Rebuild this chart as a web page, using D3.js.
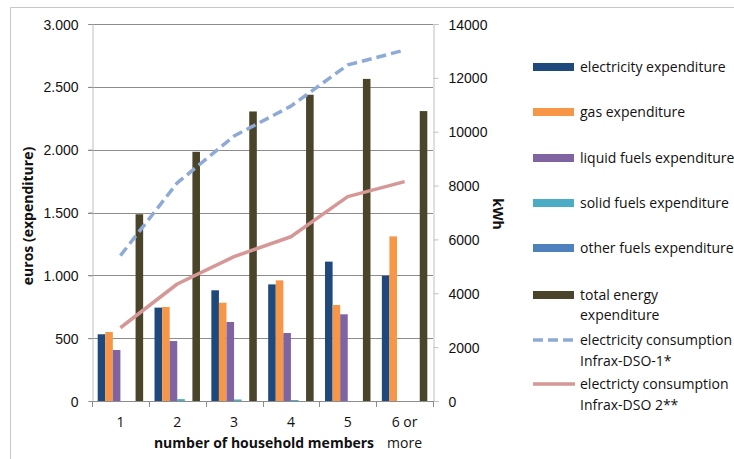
<!DOCTYPE html>
<html>
<head>
<meta charset="utf-8">
<script src="https://cdn.jsdelivr.net/npm/d3@7"></script>
<style>
  html, body { margin: 0; padding: 0; background: #fff; }
  svg { display: block; font-family: "Open Sans", sans-serif; }
</style>
</head>
<body>
<svg id="chart" width="734" height="459"></svg>
<script>
// Household size categories
const categories = ["1", "2", "3", "4", "5", "6 or more"];
const categoryLabels = [["1"], ["2"], ["3"], ["4"], ["5"], ["6 or", "more"]];

// Yearly expenditure per household, euros (left axis)
const electricityExpenditure = [531, 743, 881, 928, 1109, 997];
const gasExpenditure = [549, 748, 782, 960, 764, 1310];
const liquidFuelsExpenditure = [406, 477, 629, 541, 690, 0];
const solidFuelsExpenditure = [0, 15, 12, 8, 0, 0];
const otherFuelsExpenditure = [0, 0, 0, 0, 0, 0];
const totalEnergyExpenditure = [1486, 1983, 2304, 2437, 2563, 2307];

// Yearly electricity consumption, kWh (right axis)
const consumptionDSO1 = [5400, 8100, 9840, 10950, 12480, 13030];
const consumptionDSO2 = [2720, 4345, 5360, 6100, 7590, 8145];

// Axis ticks
const leftTicks = [0, 500, 1000, 1500, 2000, 2500, 3000];
const rightTicks = [0, 2000, 4000, 6000, 8000, 10000, 12000, 14000];

const barSeries = [
  { name: "electricity expenditure", values: electricityExpenditure, color: "#1f497d" },
  { name: "gas expenditure", values: gasExpenditure, color: "#f79646" },
  { name: "liquid fuels expenditure", values: liquidFuelsExpenditure, color: "#8064a2" },
  { name: "solid fuels expenditure", values: solidFuelsExpenditure, color: "#4bacc6" },
  { name: "other fuels expenditure", values: otherFuelsExpenditure, color: "#4f81bd" },
  { name: "total energy expenditure", values: totalEnergyExpenditure, color: "#4a452a", lines: ["total energy", "expenditure"] }
];
const lineSeries = [
  { lines: ["electricity consumption", "Infrax-DSO-1*"], values: consumptionDSO1, color: "#8eaad6", dash: "10,5" },
  { lines: ["electricty consumption", "Infrax-DSO 2**"], values: consumptionDSO2, color: "#d59896", dash: null }
];

const ink = "#111";
const svg = d3.select("#chart");
const plot = { left: 92, right: 433, top: 24, bottom: 401 };

// Outer chart frame
svg.append("path")
  .attr("d", `M10.5,459 V7.5 H734`)
  .attr("fill", "none").attr("stroke", "#c6c6c6").attr("stroke-width", 1);

const x = d3.scaleBand().domain(categories).range([plot.left, plot.right]).padding(0);
const xInner = d3.scaleBand().domain(barSeries.map(s => s.name))
  .range([0, x.bandwidth()]).paddingInner(0).paddingOuter(0.75);
const yLeft = d3.scaleLinear().domain([0, 3000]).range([plot.bottom, plot.top]);
const yRight = d3.scaleLinear().domain([0, 14000]).range([plot.bottom, plot.top]);

// Horizontal gridlines
svg.append("g").selectAll("line").data(leftTicks.filter(d => d > 0)).join("line")
  .attr("x1", plot.left - 4).attr("x2", plot.right)
  .attr("y1", d => Math.round(yLeft(d)) + 0.5).attr("y2", d => Math.round(yLeft(d)) + 0.5)
  .attr("stroke", "#8c8c8c").attr("stroke-width", 1);

// Left axis
const leftAxis = svg.append("g").attr("transform", `translate(${plot.left + 0.5},0)`)
  .call(d3.axisLeft(yLeft).tickValues(leftTicks).tickSize(4).tickPadding(10)
    .tickFormat(d => d3.format(",")(d).replace(",", ".")));
leftAxis.select(".domain").attr("stroke", "#bfbfbf");
leftAxis.selectAll(".tick line").attr("stroke", "#8c8c8c");
leftAxis.selectAll("text").attr("font-size", 14).attr("fill", ink).attr("dy", "0.36em");

// Right axis
const rightAxis = svg.append("g").attr("transform", `translate(${plot.right + 0.5},0)`)
  .call(d3.axisRight(yRight).tickValues(rightTicks).tickSize(5).tickPadding(10).tickFormat(d3.format("d")));
rightAxis.select(".domain").attr("stroke", "#bfbfbf");
rightAxis.selectAll(".tick line").attr("stroke", "#bfbfbf");
rightAxis.selectAll("text").attr("font-size", 14).attr("fill", ink).attr("dy", "0.36em");

// Bars
const groups = svg.append("g").selectAll("g").data(barSeries).join("g").attr("fill", s => s.color);
groups.selectAll("rect").data(s => s.values.map((v, i) => ({ s, v, c: categories[i] }))).join("rect")
  .attr("x", d => x(d.c) + xInner(d.s.name))
  .attr("width", xInner.bandwidth())
  .attr("y", d => yLeft(d.v))
  .attr("height", d => yLeft(0) - yLeft(d.v));

// Bottom axis with category boundary ticks
const bottom = svg.append("g");
bottom.append("line").attr("x1", plot.left).attr("x2", plot.right + 1)
  .attr("y1", plot.bottom + 0.5).attr("y2", plot.bottom + 0.5).attr("stroke", "#8c8c8c");
const boundaries = categories.map(c => x(c)).concat([plot.right]);
bottom.selectAll("line.tk").data(boundaries).join("line").attr("class", "tk")
  .attr("x1", d => Math.round(d) + 0.5).attr("x2", d => Math.round(d) + 0.5)
  .attr("y1", plot.bottom).attr("y2", plot.bottom + 6).attr("stroke", "#8c8c8c");
const catText = bottom.selectAll("text.cat").data(categories).join("text").attr("class", "cat")
  .attr("x", c => x(c) + x.bandwidth() / 2).attr("y", 427)
  .attr("text-anchor", "middle").attr("font-size", 14).attr("fill", ink);
catText.each(function (c, i) {
  d3.select(this).selectAll("tspan").data(categoryLabels[i]).join("tspan")
    .attr("x", x(c) + x.bandwidth() / 2).attr("dy", (d, j) => j === 0 ? 0 : 21).text(d => d);
});

// Consumption lines
const line = d3.line().x((d, i) => x(categories[i]) + x.bandwidth() / 2).y(d => yRight(d));
lineSeries.forEach(s => {
  svg.append("path").datum(s.values).attr("d", line)
    .attr("fill", "none").attr("stroke", s.color).attr("stroke-width", 3.5)
    .attr("stroke-dasharray", s.dash).attr("stroke-linejoin", "round");
});

// Axis titles
svg.append("text").attr("transform", "translate(33,216) rotate(-90)")
  .attr("text-anchor", "middle").attr("font-size", 14).attr("font-weight", "bold").attr("fill", ink)
  .text("euros (expenditure)");
svg.append("text").attr("transform", "translate(493,214) rotate(90)")
  .attr("text-anchor", "middle").attr("font-size", 14).attr("font-weight", "bold").attr("fill", ink)
  .text("kWh");
svg.append("text").attr("x", 264).attr("y", 448)
  .attr("text-anchor", "middle").attr("font-size", 14).attr("font-weight", "bold").attr("fill", ink)
  .text("number of household members");

// Legend
const legendY = [67, 112, 158, 203, 248, 295];
const legend = svg.append("g");
barSeries.forEach((s, i) => {
  legend.append("rect").attr("x", 533).attr("y", legendY[i] - 4).attr("width", 41).attr("height", 8).attr("fill", s.color);
  const t = legend.append("text").attr("x", 580).attr("y", legendY[i])
    .attr("font-size", 14).attr("fill", ink);
  (s.lines || [s.name]).forEach((l, j) => t.append("tspan").attr("x", 580).attr("dy", j === 0 ? "0.35em" : 20).text(l));
});
const lineLegendY = [340, 384];
lineSeries.forEach((s, i) => {
  legend.append("line").attr("x1", 533).attr("x2", 575).attr("y1", lineLegendY[i]).attr("y2", lineLegendY[i])
    .attr("stroke", s.color).attr("stroke-width", 3.5).attr("stroke-dasharray", s.dash);
  const t = legend.append("text").attr("x", 580).attr("y", lineLegendY[i]).attr("font-size", 14).attr("fill", ink);
  s.lines.forEach((l, j) => t.append("tspan").attr("x", 580).attr("dy", j === 0 ? "0.35em" : 21).text(l));
});
</script>
</body>
</html>
